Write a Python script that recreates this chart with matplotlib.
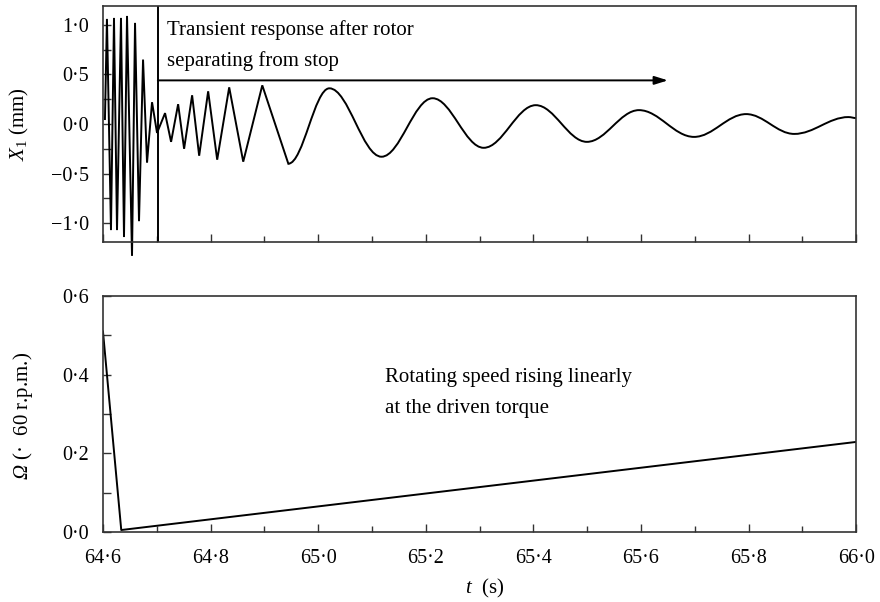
import matplotlib
matplotlib.use('Agg')
import matplotlib.pyplot as plt
from matplotlib.path import Path
from matplotlib.patches import PathPatch
from matplotlib.ticker import MultipleLocator, FuncFormatter

plt.rcParams['font.family'] = ['Liberation Serif', 'DejaVu Serif']
plt.rcParams['mathtext.fontset'] = 'custom'
plt.rcParams['mathtext.rm'] = 'Liberation Serif'
plt.rcParams['mathtext.it'] = 'Liberation Serif:italic'
# italic capital Greek via the sf slot (the it slot forces Greek capitals upright)
plt.rcParams['mathtext.sf'] = 'Liberation Serif:italic'

# X1 response: fast part while touching the stop (extrema, straight segments)
t_fast = [64.6037, 64.6074, 64.6149, 64.6205, 64.6261, 64.6335, 64.6391, 64.6447,
          64.6540, 64.6596, 64.6670, 64.6745, 64.6819, 64.6912, 64.7005, 64.7154,
          64.7266, 64.7397, 64.7508, 64.7657, 64.7788, 64.7955, 64.8123, 64.8346,
          64.8607, 64.8961, 64.9445]
x_fast = [0.05, 1.06, -1.07, 1.07, -1.07, 1.07, -1.14, 1.09,
          -1.33, 1.02, -0.98, 0.65, -0.39, 0.22, -0.09, 0.11,
          -0.18, 0.20, -0.25, 0.29, -0.32, 0.33, -0.36, 0.37,
          -0.38, 0.39, -0.40]
# slow decaying part after rotor separates from stop (extrema, smooth)
t_slow = [64.9445, 65.0208, 65.1177, 65.2126, 65.3076, 65.4044, 65.4994,
          65.5962, 65.6986, 65.7954, 65.8848, 65.9854, 66.0]
x_slow = [-0.40, 0.36, -0.33, 0.26, -0.24, 0.19, -0.18,
          0.14, -0.13, 0.10, -0.10, 0.07, 0.06]

# rotating speed
t_speed = [64.6, 64.634, 66.0]
omega = [0.51, 0.005, 0.229]

t_separate = 64.702
t_arrow_end = 65.65


def dot_fmt(v, pos):
    s = '{:.1f}'.format(abs(v)).replace('.', '·')
    if v < -1e-9:
        s = '\u2212' + s
    return s


fig = plt.figure(figsize=(8.8, 6.02), dpi=100)
ax1 = fig.add_axes([0.117, 0.598, 0.856, 0.392])
ax2 = fig.add_axes([0.117, 0.1163, 0.856, 0.392])

for ax in (ax1, ax2):
    for sp in ax.spines.values():
        sp.set_linewidth(1.2)
        sp.set_color('#333333')
    ax.set_xlim(64.6, 66.0)
    ax.xaxis.set_major_locator(MultipleLocator(0.2))
    ax.xaxis.set_minor_locator(MultipleLocator(0.1))
    ax.tick_params(which='both', direction='in', top=False, right=False,
                   color='#333333', width=1.0, labelsize=14.5)
    ax.tick_params(which='major', length=6)
    ax.tick_params(which='minor', length=4)

# top panel
ax1.plot(t_fast, x_fast, color='black', lw=1.4, clip_on=False, solid_joinstyle='miter')
k = 0.3634
verts = [(t_slow[0], x_slow[0])]
codes = [Path.MOVETO]
for i in range(1, len(t_slow)):
    dt = t_slow[i] - t_slow[i - 1]
    verts += [(t_slow[i - 1] + k * dt, x_slow[i - 1]),
              (t_slow[i] - k * dt, x_slow[i]),
              (t_slow[i], x_slow[i])]
    codes += [Path.CURVE4] * 3
ax1.add_patch(PathPatch(Path(verts, codes), facecolor='none', edgecolor='black', lw=1.4))

ax1.axvline(t_separate, color='black', lw=1.4)
ax1.annotate('', xy=(t_arrow_end, 0.44), xytext=(t_separate, 0.44),
             arrowprops=dict(arrowstyle='-|>,head_length=0.8,head_width=0.25',
                             color='black', lw=1.4, shrinkA=0, shrinkB=0))
ax1.text(64.719, 0.95, 'Transient response after rotor', fontsize=15, va='center')
ax1.text(64.719, 0.63, 'separating from stop', fontsize=15, va='center')

ax1.set_ylim(-1.19, 1.19)
ax1.yaxis.set_major_locator(MultipleLocator(0.5))
ax1.yaxis.set_minor_locator(MultipleLocator(0.25))
ax1.yaxis.set_major_formatter(FuncFormatter(dot_fmt))
ax1.tick_params(axis='y', which='both', length=6, pad=10)
ax1.tick_params(axis='x', labelbottom=False)
ax1.set_ylabel(r'$X_1$ (mm)', fontsize=15)
ax1.yaxis.set_label_coords(-0.096, 0.5)

# bottom panel
ax2.plot(t_speed, omega, color='black', lw=1.4)
ax2.text(65.125, 0.394, 'Rotating speed rising linearly', fontsize=15, va='center')
ax2.text(65.125, 0.313, 'at the driven torque', fontsize=15, va='center')
ax2.set_ylim(0, 0.6)
ax2.yaxis.set_major_locator(MultipleLocator(0.2))
ax2.yaxis.set_minor_locator(MultipleLocator(0.1))
ax2.yaxis.set_major_formatter(FuncFormatter(dot_fmt))
ax2.xaxis.set_major_formatter(FuncFormatter(dot_fmt))
ax2.tick_params(axis='y', which='both', length=6, pad=10)
ax2.tick_params(axis='x', pad=12)
ax2.set_ylabel(r'$\mathsf{\Omega}$ (·  60 r.p.m.)', fontsize=15)
ax2.yaxis.set_label_coords(-0.09, 0.49)
ax2.set_xlabel(r'$t$  (s)', fontsize=15)
ax2.xaxis.set_label_coords(0.507, -0.19)

fig.savefig('out.png', dpi=100)
